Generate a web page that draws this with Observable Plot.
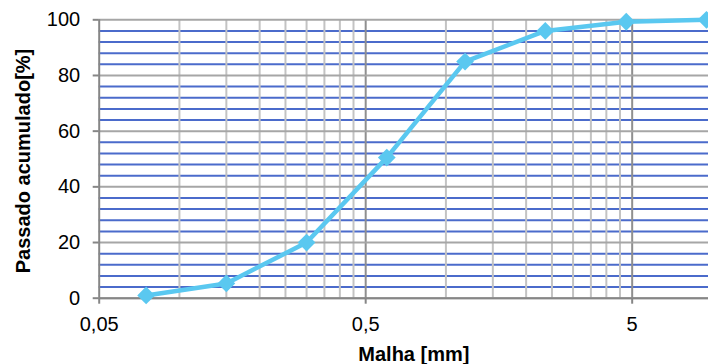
<!DOCTYPE html>
<html>
<head>
<meta charset="utf-8">
<script src="https://cdn.jsdelivr.net/npm/d3@7"></script>
<script src="https://cdn.jsdelivr.net/npm/@observablehq/plot@0.6"></script>
<style>
  html, body { margin: 0; padding: 0; background: #fff; overflow: hidden; }
</style>
</head>
<body>
<div id="chart"></div>
<script>
// Sieve openings (mm) and cumulative passing (%)
const sieves = [0.075, 0.15, 0.3, 0.6, 1.18, 2.36, 4.75, 9.5];
const passing = [1, 5.3, 20, 50.5, 85, 96, 99.3, 100];

// Axis ticks
const xTicks = [0.05, 0.5, 5];
const xTickLabels = ["0,05", "0,5", "5"];
const yTicks = [0, 20, 40, 60, 80, 100];
const xTitle = "Malha [mm]";
const yTitle = "Passado acumulado[%]";

// Grid positions
const xMinor = xTicks.flatMap(d => d3.range(2, 10).map(k => d * k)).filter(v => v <= 10);
const yMinor = d3.range(0, 101, 4).filter(v => v % 20 !== 0);

const data = sieves.map((s, i) => ({s, p: passing[i]}));
const xLabelData = xTicks.map((t, i) => ({t, label: xTickLabels[i]}));

const lineColor = "#5ac8f0";

const chart = Plot.plot({
  width: 708,
  height: 364,
  marginLeft: 98.7,
  marginTop: 19.3,
  marginBottom: 66.3,
  marginRight: 0,
  x: {type: "log", domain: [0.05, 10], range: [98.7, 711.9], axis: null},
  y: {domain: [0, 100], axis: null},
  style: {fontFamily: "'Liberation Sans', Arial, sans-serif", fontSize: "20px", background: "#fff", color: "#000"},
  marks: [
    Plot.ruleY(yMinor, {stroke: "#4b6bcb", strokeWidth: 2}),
    Plot.ruleX(xMinor, {stroke: "#c3c3c3", strokeWidth: 2}),
    Plot.ruleX([0.5, 5], {stroke: "#8f8f8f", strokeWidth: 2}),
    Plot.ruleY(yTicks, {stroke: "#a6a6a6", strokeWidth: 2}),
    Plot.ruleX([0.05], {stroke: "#868686", strokeWidth: 2}),
    Plot.ruleY([0], {stroke: "#868686", strokeWidth: 2}),
    Plot.axisY({ticks: yTicks, tickSize: 6, tickPadding: 13, stroke: "#868686", strokeWidth: 2, label: null, fontSize: 20}),
    Plot.ruleX(xTicks, {x: d => d, y1: 0, y2: 0, insetBottom: -6, stroke: "#868686", strokeWidth: 2}),
    Plot.text(xLabelData, {x: "t", text: "label", frameAnchor: "bottom", lineAnchor: "middle", dy: 26.3, fontSize: 20, fill: "#000"}),
    Plot.line(data, {x: "s", y: "p", stroke: lineColor, strokeWidth: 4.5, strokeLinejoin: "round"}),
    Plot.dot(data, {x: "s", y: "p", symbol: "diamond2", r: 8, fill: lineColor, stroke: "none"}),
    Plot.text([yTitle], {frameAnchor: "left", textAnchor: "middle", dx: -75.7, dy: 2, rotate: -90, fontWeight: "bold", fontSize: 20, fill: "#000"}),
    Plot.text([xTitle], {frameAnchor: "bottom", lineAnchor: "middle", dx: 10, dy: 56.3, fontWeight: "bold", fontSize: 20, fill: "#000"})
  ]
});
document.getElementById("chart").appendChild(chart);
</script>
</body>
</html>
